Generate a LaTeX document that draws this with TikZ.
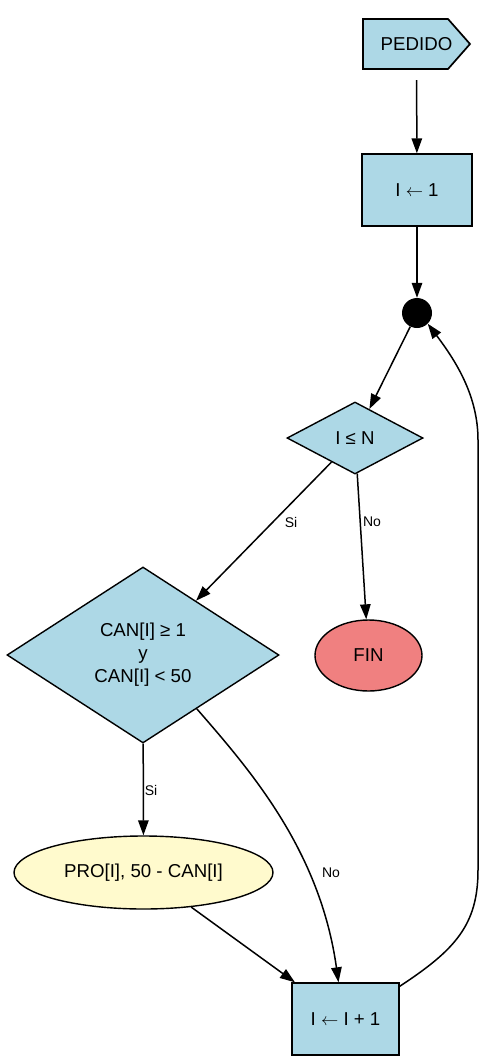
\documentclass[tikz,border=0pt]{standalone}
\usepackage{fontspec}
\setmainfont{Liberation Sans}
\usetikzlibrary{shapes.geometric,arrows.meta}
\definecolor{nodeblue}{HTML}{ADD8E6}
\definecolor{fincolor}{HTML}{F08080}
\definecolor{procolor}{HTML}{FFFACD}
\begin{document}
\begin{tikzpicture}[x=1pt,y=-1pt,
  every node/.style={font=\fontsize{18.67}{23}\selectfont},
  base/.style={draw, line width=1.4pt, inner sep=0pt},
  procbox/.style={base, rectangle, fill=nodeblue, minimum height=72pt},
  decision/.style={base, diamond, fill=nodeblue, align=center},
  flow/.style={line width=1.5pt, -{Triangle[length=15pt,width=10.5pt]}},
  elabel/.style={font=\fontsize{14}{17}\selectfont, inner sep=0pt}
]
\useasboundingbox (0,0) rectangle (487,1063);
% start symbol
\draw[line width=1.7pt, fill=nodeblue] (363,19) -- (448,19) -- (470,44) -- (448,69) -- (363,69) -- cycle;
\node[minimum width=107pt, minimum height=72pt, inner sep=0pt] (pedido) at (416.5,44) {PEDIDO};
\node[procbox, minimum width=110pt] (init) at (417,190) {I $\leftarrow$ 1};
\node[circle, fill=black, minimum size=30pt, inner sep=0pt] (dot) at (417,313) {};
\node[decision, minimum width=136pt, minimum height=72pt] (cond1) at (355,438) {I ≤ N};
\node[base, ellipse, fill=fincolor, minimum width=107pt, minimum height=71pt] (fin) at (368.5,655.5) {FIN};
\node[decision, minimum width=272pt, minimum height=176pt] (cond2) at (143,655) {CAN[I] ≥ 1\\y\\CAN[I] < 50};
\node[base, ellipse, fill=procolor, minimum width=259pt, minimum height=73pt] (pro) at (143.5,872.5) {PRO[I], 50 - CAN[I]};
\node[procbox, minimum width=107pt] (inc) at (345.5,1019) {I $\leftarrow$ I + 1};
% connectors
\draw[flow] (pedido) -- (init);
\draw[flow] (init) -- (dot);
\draw[flow] (dot) -- (cond1);
\draw[flow] (cond1) -- (cond2);
\draw[flow] (cond1) -- (fin);
\draw[flow] (cond2) -- (pro);
\draw[flow] (cond2.-45) .. controls (250,770) and (320,850) .. ([xshift=-7pt]inc.north);
\draw[flow] (pro) -- (inc);
\draw[flow] ([yshift=-4pt]inc.north east) .. controls (455,950) and (478,925) .. (478,870) -- (478,440) .. controls (478,395) and (455,360) .. (dot.-45);
% labels
\node[elabel] (l1) at (291,522) {Si};
\node[elabel] (l2) at (372,522) {No};
\node[elabel] (l3) at (151,790) {Si};
\node[elabel] (l4) at (331,873) {No};
\end{tikzpicture}
\end{document}
